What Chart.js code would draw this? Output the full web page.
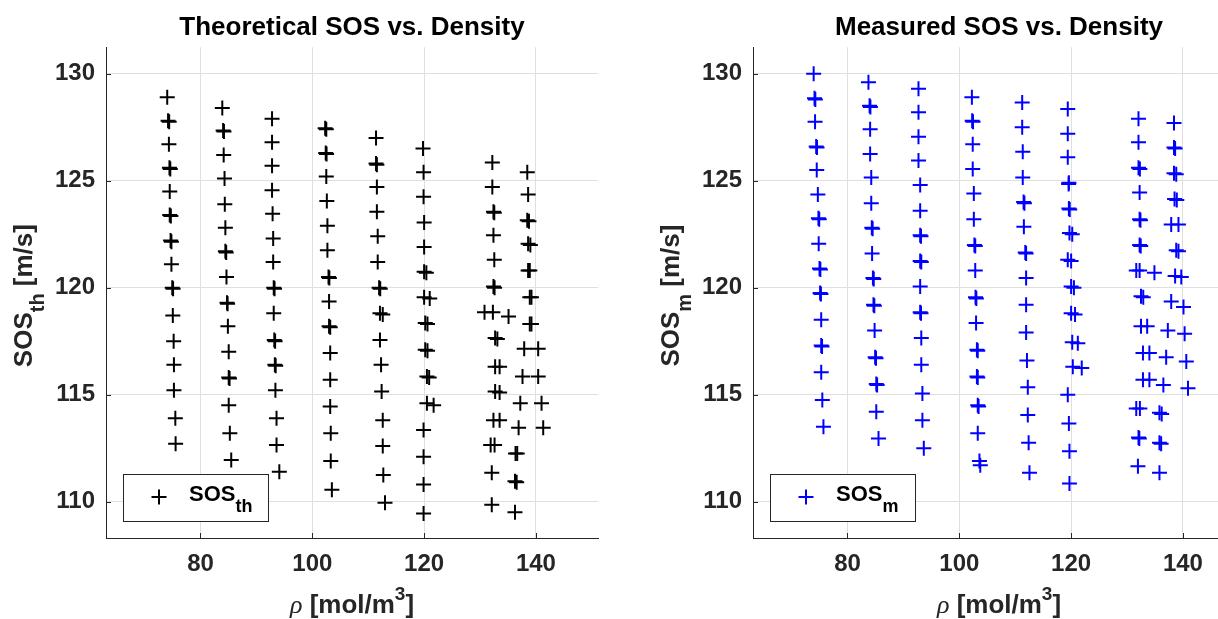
<!DOCTYPE html>
<html><head><meta charset="utf-8">
<script src="https://cdn.jsdelivr.net/npm/chart.js@4.4.1/dist/chart.umd.min.js"></script>
<style>
html,body{margin:0;padding:0;background:#fff;overflow:hidden;width:1218px;height:619px;}
.wrap{position:absolute;top:0;width:609px;height:619px;}
#w1{left:0}
#w2{left:647px}
</style></head><body>
<div class="wrap" id="w1"><canvas id="c1" width="609" height="619"></canvas></div>
<div class="wrap" id="w2"><canvas id="c2" width="609" height="619"></canvas></div>
<script>
// ---------- data ----------
const xTickValues = [80, 100, 120, 140];
const yTickValues = [110, 115, 120, 125, 130];
const xRange = [63.1, 151.1];
const yRange = [108.3, 131.24];

// Theoretical SOS vs density
const thRho = [
  74.05,74.2,74.35,74.45,74.5,74.5,74.65,74.8,74.95,75.05,75.2,75.25,75.25,75.5,75.55,
  74.4,74.6,74.7,74.8,75.1,
  83.9,84.05,84.15,84.3,84.35,84.45,84.45,84.65,84.75,84.9,85.05,85.05,85.05,85.25,85.5,
  84.2,84.6,84.85,85.2,
  92.8,92.8,92.8,92.8,92.9,93.0,93.0,93.1,93.1,93.2,93.3,93.4,93.6,93.6,94.1,
  93.25,93.35,93.45,
  102.3,102.4,102.5,102.6,102.7,102.7,102.9,103.0,103.0,103.2,103.2,103.2,103.3,103.3,103.5,
  102.5,102.55,103.05,103.2,
  111.4,111.4,111.55,111.55,111.7,111.7,111.95,112.1,112.1,112.3,112.4,112.6,112.6,112.7,113.0,
  112.6,112.15,111.55,
  119.8,119.9,119.9,120.0,120.0,120.0,120.0,120.2,120.2,120.5,120.5,119.9,119.9,119.9,119.9,
  120.4,121.0,120.6,120.6,120.9,121.7,
  132.2,132.2,132.4,132.4,132.55,132.4,130.8,132.3,135.1,132.7,133.1,132.7,133.5,132.7,133.5,132.4,133.5,131.9,132.6,132.1,132.1,
  132.55,132.6,
  138.45,138.6,138.45,138.75,138.6,139.0,138.6,138.9,138.9,139.2,138.9,139.2,137.9,140.4,137.6,140.4,137.2,141.0,136.9,141.3,136.35,136.65,136.25,136.55,136.25
];
const thSOS = [
  128.9,127.8,126.7,125.6,124.5,123.4,122.2,121.1,120.0,118.7,117.5,116.4,115.2,113.9,112.7,
  127.75,125.55,123.35,122.15,119.95,
  128.4,127.35,126.2,125.1,123.9,122.8,121.7,120.5,119.3,118.2,117.0,115.8,114.5,113.2,111.95,
  127.3,121.65,119.25,115.75,
  127.9,126.8,125.7,124.55,123.45,122.3,121.2,120.0,118.8,117.55,116.4,115.2,113.9,112.65,111.4,
  119.95,117.5,116.35,
  127.45,126.3,125.2,124.05,122.9,121.75,120.5,119.35,118.2,116.95,115.7,114.45,113.2,111.9,110.55,
  127.4,126.25,120.45,118.15,
  127.0,125.8,124.7,123.55,122.4,121.2,120.0,118.8,117.55,116.4,115.15,113.8,112.6,111.25,109.95,
  118.75,119.95,125.75,
  126.5,125.4,124.25,123.05,121.9,120.75,119.55,118.35,117.1,115.85,114.6,113.35,112.1,110.8,109.45,
  120.7,119.5,118.3,117.05,115.8,114.5,
  125.85,124.7,123.55,122.45,121.3,120.05,118.85,118.85,118.65,117.65,117.6,116.3,116.3,115.15,115.1,113.8,113.8,112.65,112.65,111.35,109.85,
  123.5,120.0,
  125.4,124.35,123.15,123.1,122.05,122.0,120.8,120.8,119.55,119.55,118.3,118.3,117.15,117.15,115.85,115.85,114.6,114.6,113.45,113.45,112.25,112.25,110.95,110.9,109.5
];

// Measured SOS vs density
const mRho = [
  73.95,74.1,74.2,74.4,74.5,74.7,74.8,74.85,75.0,75.1,75.3,75.3,75.3,75.5,75.7,
  74.25,74.55,74.95,75.15,75.25,75.45,
  83.75,83.95,84.05,84.05,84.25,84.25,84.35,84.4,84.55,84.65,84.85,84.95,85.15,85.15,85.55,
  84.1,84.5,84.7,84.8,85.1,85.3,
  92.7,92.7,92.7,92.7,93.0,93.0,93.0,93.0,93.0,93.0,93.2,93.2,93.4,93.4,93.65,
  93.15,93.2,93.15,
  102.25,102.3,102.4,102.4,102.6,102.6,102.7,102.85,102.9,103.0,103.15,103.15,103.3,103.3,103.6,103.75,
  102.45,102.85,103.05,103.3,103.3,103.45,
  111.25,111.25,111.35,111.35,111.5,111.55,111.8,111.95,111.95,111.95,112.1,112.25,112.25,112.4,112.55,
  111.65,111.95,
  119.4,119.4,119.4,119.6,119.6,119.7,119.4,120.0,120.0,120.2,120.3,119.4,119.6,119.7,119.7,
  119.55,119.75,120.2,120.0,120.5,120.7,121.2,121.9,
  132.05,132.05,132.05,132.3,132.25,132.25,132.4,132.25,132.45,131.65,132.25,134.9,132.5,132.9,132.5,133.6,132.85,134.0,132.85,134.0,131.65,132.3,132.05,131.95,132.2,
  138.4,138.4,138.6,138.4,138.8,138.5,138.9,137.9,139.2,138.8,139.2,138.6,139.7,137.9,140.1,137.3,140.3,137.0,140.6,136.5,140.9,135.8,136.2,135.8,136.1,135.8
];
const mSOS = [
  130.0,128.85,127.75,126.6,125.5,124.35,123.25,122.05,120.9,119.75,118.5,117.3,116.05,114.75,113.5,
  128.8,126.55,123.2,120.85,119.7,117.25,
  129.6,128.5,127.4,126.25,125.15,123.95,122.8,121.6,120.45,119.2,118.0,116.75,115.5,114.2,112.95,
  128.45,122.75,120.4,119.15,116.7,115.45,
  129.3,128.2,127.05,125.95,124.8,123.6,122.45,121.25,120.05,118.85,117.65,116.4,115.05,113.8,112.5,
  122.4,121.2,118.8,
  128.9,127.8,126.7,125.55,124.4,123.2,122.0,120.8,119.55,118.35,117.1,115.85,114.5,113.2,111.9,111.7,
  127.75,121.95,119.5,117.05,115.8,114.45,
  128.65,127.5,126.35,125.15,124.0,122.85,121.65,120.45,119.2,117.9,116.6,115.35,114.05,112.75,111.35,
  123.95,121.6,
  128.35,127.2,126.1,124.9,123.7,122.55,121.3,120.05,118.8,117.45,116.3,115.0,113.65,112.35,110.85,
  124.85,123.65,122.5,121.25,120.0,118.75,117.4,116.25,
  127.9,126.8,125.6,125.55,124.45,123.2,123.15,122.0,121.95,120.8,120.8,120.7,119.6,119.55,118.2,118.2,116.95,116.95,115.7,115.7,114.35,114.35,113.0,111.65,112.95,
  127.7,126.55,126.5,125.35,125.3,124.15,124.1,122.95,122.95,121.75,121.7,120.55,120.5,119.35,119.1,118.0,117.85,116.75,116.55,115.45,115.3,114.15,114.1,112.75,112.7,111.35
];

// ---------- styling ----------
const FONT = '"Liberation Sans", Arial, Helvetica, sans-serif';
const AXIS = '#262626';
const GRID = '#dfdfdf';
const TXT = '#262626';

function drawRuns(ctx, runs, x, y, align) {
  let total = 0;
  runs.forEach(r => { ctx.font = r.font; r.w = ctx.measureText(r.text).width; total += r.w; });
  let cx = align === 'center' ? x - total / 2 : x;
  ctx.textAlign = 'left';
  ctx.textBaseline = 'alphabetic';
  runs.forEach(r => { ctx.font = r.font; ctx.fillText(r.text, cx, y + (r.dy || 0)); cx += r.w; });
}

function drawPlus(ctx, x, y, r, color, lw) {
  ctx.save();
  ctx.strokeStyle = color; ctx.lineWidth = lw;
  ctx.beginPath();
  ctx.moveTo(x - r, y); ctx.lineTo(x + r, y);
  ctx.moveTo(x, y - r); ctx.lineTo(x, y + r);
  ctx.stroke();
  ctx.restore();
}

const overlay = {
  id: 'overlay',
  afterDraw(chart, args, opts) {
    const ctx = chart.ctx, a = chart.chartArea, sx = chart.scales.x, sy = chart.scales.y;
    ctx.save();
    // inward ticks
    ctx.strokeStyle = AXIS; ctx.lineWidth = 1;
    ctx.beginPath();
    xTickValues.forEach(v => {
      const px = Math.round(sx.getPixelForValue(v)) + 0.5;
      ctx.moveTo(px, a.bottom); ctx.lineTo(px, a.bottom - 5);
    });
    yTickValues.forEach(v => {
      const py = Math.round(sy.getPixelForValue(v)) + 0.5;
      ctx.moveTo(a.left, py); ctx.lineTo(a.left + 5, py);
    });
    ctx.stroke();

    ctx.fillStyle = TXT;
    // x axis label
    const cxm = (a.left + a.right) / 2;
    drawRuns(ctx, [
      {text: 'ρ', font: 'italic 26px "Liberation Serif", serif'},
      {text: ' [mol/m', font: 'bold 26px ' + FONT},
      {text: '3', font: 'bold 19px ' + FONT, dy: -13},
      {text: ']', font: 'bold 26px ' + FONT}
    ], cxm, 613, 'center');

    // y axis label (rotated)
    ctx.save();
    ctx.translate(31.5, (a.top + a.bottom) / 2 + 3);
    ctx.rotate(-Math.PI / 2);
    drawRuns(ctx, [
      {text: 'SOS', font: 'bold 26px ' + FONT},
      {text: opts.sub, font: 'bold 20px ' + FONT, dy: 12},
      {text: ' [m/s]', font: 'bold 26px ' + FONT}
    ], 0, 0, 'center');
    ctx.restore();

    // legend
    const bx = a.left + 17, by = a.bottom - 64, bw = 145, bh = 47;
    ctx.fillStyle = '#fff';
    ctx.fillRect(bx, by, bw, bh);
    ctx.strokeStyle = AXIS; ctx.lineWidth = 1;
    ctx.strokeRect(Math.round(bx) + 0.5, Math.round(by) + 0.5, bw, bh);
    drawPlus(ctx, bx + 36, by + 23, 7.5, opts.color, 2);
    ctx.fillStyle = '#000';
    drawRuns(ctx, [
      {text: 'SOS', font: 'bold 22px ' + FONT},
      {text: opts.sub, font: 'bold 18px ' + FONT, dy: 11}
    ], bx + 66, by + 27, 'left');
    ctx.restore();
  }
};

function makeChart(id, rho, sos, color, title, sub) {
  const pts = rho.map((x, i) => ({x: x, y: sos[i]}));
  return new Chart(document.getElementById(id), {
    type: 'scatter',
    data: {datasets: [{
      label: 'SOS' + sub, data: pts,
      pointStyle: 'cross', pointRadius: 7.5, pointHoverRadius: 7.5,
      pointBorderWidth: 2, pointHoverBorderWidth: 2,
      borderColor: color, backgroundColor: color
    }]},
    options: {
      responsive: false, animation: false, events: [],
      layout: {padding: {top: 0, right: 11, bottom: 0, left: 0}},
      plugins: {
        legend: {display: false}, tooltip: {enabled: false},
        title: {display: true, text: title, fullSize: false, color: '#000',
          font: {family: FONT, size: 26, weight: 'bold', lineHeight: 1.2},
          padding: {top: 12, bottom: 4}},
        overlay: {sub: sub, color: color}
      },
      scales: {
        x: {
          type: 'linear', min: xRange[0], max: xRange[1],
          afterBuildTicks: s => { s.ticks = xTickValues.map(v => ({value: v})); },
          afterFit: s => { s.height = 81; },
          grid: {color: GRID, drawTicks: false, lineWidth: 1},
          border: {color: AXIS, width: 1},
          ticks: {padding: 12, color: TXT, font: {family: FONT, size: 24, weight: 'bold'}}
        },
        y: {
          type: 'linear', min: yRange[0], max: yRange[1],
          afterBuildTicks: s => { s.ticks = yTickValues.map(v => ({value: v})); },
          afterFit: s => { s.width = 106; },
          grid: {color: GRID, drawTicks: false, lineWidth: 1},
          border: {color: AXIS, width: 1},
          ticks: {padding: 11, color: TXT, font: {family: FONT, size: 24, weight: 'bold'}}
        }
      }
    },
    plugins: [overlay]
  });
}

makeChart('c1', thRho, thSOS, '#000000', 'Theoretical SOS vs. Density', 'th');
makeChart('c2', mRho, mSOS, '#0000ff', 'Measured SOS vs. Density', 'm');
</script></body></html>
